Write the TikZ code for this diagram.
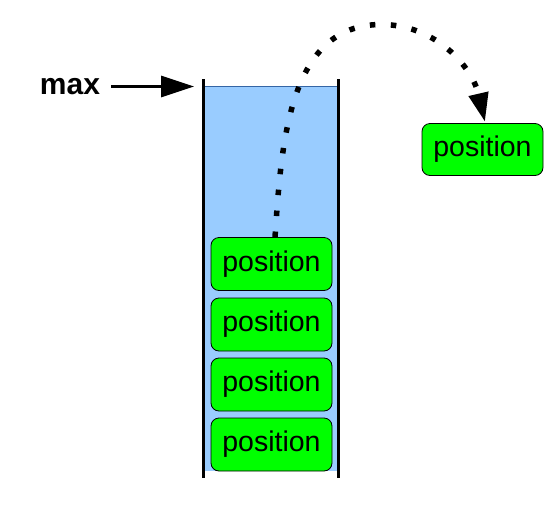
\documentclass[tikz,border=0pt]{standalone}
\usepackage{fontspec}
\setmainfont{Liberation Sans}
\usetikzlibrary{arrows.meta}
\definecolor{stackblue}{HTML}{99CCFF}
\definecolor{edgeblue}{HTML}{3465A4}
\definecolor{posgreen}{HTML}{00FF00}
\tikzset{
  posbox/.style={draw=black, line width=0.8pt, fill=posgreen, rounded corners=8pt,
    minimum width=121pt, minimum height=53pt, inner sep=0pt,
    font=\fontsize{28.5pt}{30pt}\selectfont},
  wall/.style={line width=3pt, black},
}
\begin{document}
\begin{tikzpicture}[x=1pt,y=1pt]
\useasboundingbox (0,0) rectangle (558,-515);
% container
\fill[stackblue] (203,-86) rectangle (338,-471);
\draw[edgeblue, line width=1pt] (203,-86) -- (338,-86);
\coordinate (wl1) at (203,-79);
\coordinate (wl2) at (203,-478);
\coordinate (wr1) at (338,-79);
\coordinate (wr2) at (338,-478);
\draw[wall] (wl1) -- (wl2);
\draw[wall] (wr1) -- (wr2);
% boxes
\node[posbox] (p1) at (271.5,-264) {position};
\node[posbox] (p2) at (271.5,-324.5) {position};
\node[posbox] (p3) at (271.5,-384.5) {position};
\node[posbox] (p4) at (271.5,-444.5) {position};
\node[posbox, minimum height=52pt] (pr) at (482.5,-149.5) {position};
% max
\node[inner sep=0pt, font=\fontsize{30pt}{32pt}\selectfont\bfseries] (max) at (70,-87) {max};
\coordinate (maxtip) at (194,-86.5);
\draw[line width=3pt, -{Triangle[length=33pt,width=21pt]}, shorten <=11pt] (max.east |- maxtip) -- (maxtip);
% dotted curve
\coordinate (cs) at (275,-237);
\coordinate (ctop) at (381,-24.5);
\coordinate (ce) at (485,-122);
\draw[line width=5.5pt, dash pattern=on 5.5pt off 15.5pt, -{Triangle[length=29pt,width=19pt]}]
  (cs) to[out=86, in=180] (ctop) to[out=0, in=103] (ce);
\end{tikzpicture}
\end{document}
